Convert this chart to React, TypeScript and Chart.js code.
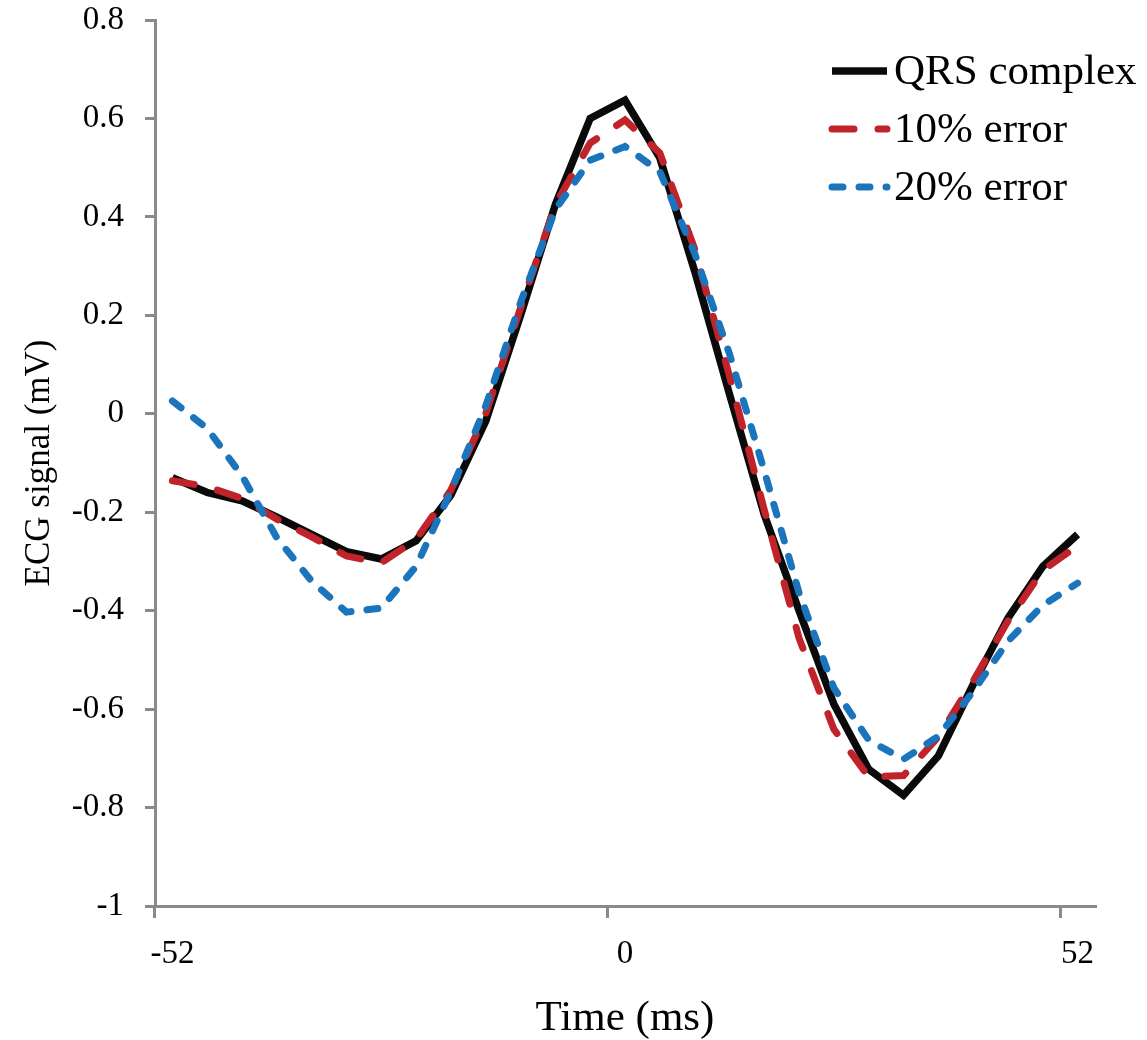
import { useEffect, useRef } from 'react';
import { Chart, registerables } from 'chart.js';

Chart.register(...registerables);

// ---- data ----
const timeLabels: string[] = [
  '-52', '-48', '-44', '-40', '-36', '-32', '-28', '-24', '-20', '-16', '-12', '-8', '-4',
  '0', '4', '8', '12', '16', '20', '24', '28', '32', '36', '40', '44', '48', '52',
];
const shownTimeLabels: string[] = ['-52', '0', '52'];

const qrsComplex: number[] = [
  -0.13, -0.16, -0.177, -0.21, -0.245, -0.28, -0.295, -0.258, -0.165, -0.015, 0.2, 0.425, 0.6,
  0.637, 0.52, 0.29, 0.04, -0.205, -0.4, -0.59, -0.722, -0.775, -0.695, -0.55, -0.415, -0.31, -0.245,
];
const error10: number[] = [
  -0.136, -0.148, -0.172, -0.214, -0.25, -0.289, -0.303, -0.255, -0.155, 0.0, 0.215, 0.425, 0.55,
  0.597, 0.53, 0.335, 0.077, -0.195, -0.456, -0.641, -0.738, -0.735, -0.656, -0.543, -0.421, -0.318, -0.268,
];
const error20: number[] = [
  0.026, -0.03, -0.126, -0.252, -0.34, -0.403, -0.395, -0.31, -0.157, 0.016, 0.226, 0.415, 0.515,
  0.543, 0.492, 0.326, 0.122, -0.116, -0.364, -0.557, -0.663, -0.702, -0.655, -0.564, -0.462, -0.389, -0.344,
];
const seriesNames: string[] = ['QRS complex', '10% error', '20% error'];

// ---- styles ----
const FONT = "'Liberation Serif', 'Times New Roman', serif";
const GRAY = '#8a8a8a';
const BLACK = '#0a0a0a';
const RED = '#c1232b';
const BLUE = '#1b75bc';

const legendPlugin = {
  id: 'cornerLegend',
  afterDraw(chart: any) {
    const ctx = chart.ctx;
    const x0 = 832;
    const x1 = 887;
    const textX = 894;
    const top = 71;
    const step = 58;
    ctx.save();
    chart.data.datasets.forEach((ds: any, i: number) => {
      const y = top + i * step;
      ctx.beginPath();
      ctx.strokeStyle = ds.borderColor;
      ctx.lineWidth = ds.borderWidth;
      ctx.lineCap = ds.borderCapStyle || 'butt';
      ctx.setLineDash(ds.borderDash || []);
      ctx.moveTo(x0, y);
      ctx.lineTo(x1, y);
      ctx.stroke();
      ctx.setLineDash([]);
      ctx.fillStyle = '#000';
      ctx.font = `43px ${FONT}`;
      ctx.textAlign = 'left';
      ctx.textBaseline = 'middle';
      ctx.fillText(ds.label, textX, y + 2);
    });
    ctx.restore();
  },
};

export default function App() {
  const canvasRef = useRef<HTMLCanvasElement | null>(null);

  useEffect(() => {
    if (!canvasRef.current) return;
    const chart = new Chart(canvasRef.current, {
      type: 'line',
      data: {
        labels: timeLabels,
        datasets: [
          {
            label: seriesNames[0],
            data: qrsComplex,
            borderColor: BLACK,
            borderWidth: 7.5,
            pointRadius: 0,
            tension: 0,
            fill: false,
            order: 3,
          },
          {
            label: seriesNames[1],
            data: error10,
            borderColor: RED,
            borderWidth: 7,
            borderDash: [22, 24],
            borderCapStyle: 'round',
            pointRadius: 0,
            tension: 0,
            fill: false,
            order: 2,
          },
          {
            label: seriesNames[2],
            data: error20,
            borderColor: BLUE,
            borderWidth: 7,
            borderDash: [11, 16],
            borderCapStyle: 'round',
            pointRadius: 0,
            tension: 0,
            fill: false,
            order: 1,
          },
        ],
      },
      options: {
        responsive: false,
        animation: false,
        devicePixelRatio: 1,
        layout: { autoPadding: false, padding: { left: 0, top: 20, right: 52, bottom: 0 } },
        plugins: {
          legend: { display: false },
          tooltip: { enabled: false },
        },
        scales: {
          x: {
            type: 'category',
            offset: true,
            ticks: {
              autoSkip: false,
              maxRotation: 0,
              minRotation: 0,
              padding: 20,
              color: '#000',
              font: { family: FONT, size: 33, lineHeight: 1 },
              callback: (_v: any, i: number) =>
                shownTimeLabels.includes(timeLabels[i]) ? timeLabels[i] : '',
            },
            grid: {
              offset: true,
              drawOnChartArea: false,
              tickLength: 12,
              lineWidth: 3,
              tickWidth: 3,
              tickColor: (c: any) =>
                c.index !== undefined && shownTimeLabels.includes(timeLabels[c.index])
                  ? GRAY
                  : 'rgba(0,0,0,0)',
            },
            border: { color: GRAY, width: 3 },
            title: {
              display: true,
              text: 'Time (ms)',
              color: '#000',
              font: { family: FONT, size: 43, lineHeight: 1 },
              padding: { top: 0, bottom: 0 },
            },
            afterFit: (s: any) => {
              s.height = 134;
              s.paddingLeft = 0;
              s.paddingRight = 0;
            },
          },
          y: {
            min: -1,
            max: 0.8,
            ticks: {
              stepSize: 0.2,
              padding: 21,
              color: '#000',
              font: { family: FONT, size: 33, lineHeight: 1 },
              callback: (v: any) => String(Number(Number(v).toFixed(1))),
            },
            grid: {
              drawOnChartArea: false,
              tickLength: 10,
              lineWidth: 3,
              tickWidth: 3,
              tickColor: GRAY,
            },
            border: { color: GRAY, width: 3 },
            title: {
              display: true,
              text: 'ECG signal (mV)',
              color: '#000',
              font: { family: FONT, size: 35, lineHeight: 1.2 },
              padding: { top: 19, bottom: 0 },
            },
            afterFit: (s: any) => {
              s.width = 155;
              s.paddingTop = 0;
              s.paddingBottom = 0;
            },
          },
        },
      },
      plugins: [legendPlugin],
    } as any);
    return () => chart.destroy();
  }, []);

  return (
    <div
      style={{
        position: 'fixed',
        left: 0,
        top: 0,
        width: 1147,
        height: 1040,
        background: '#fff',
      }}
    >
      <canvas ref={canvasRef} width={1147} height={1040} style={{ display: 'block' }} />
    </div>
  );
}
